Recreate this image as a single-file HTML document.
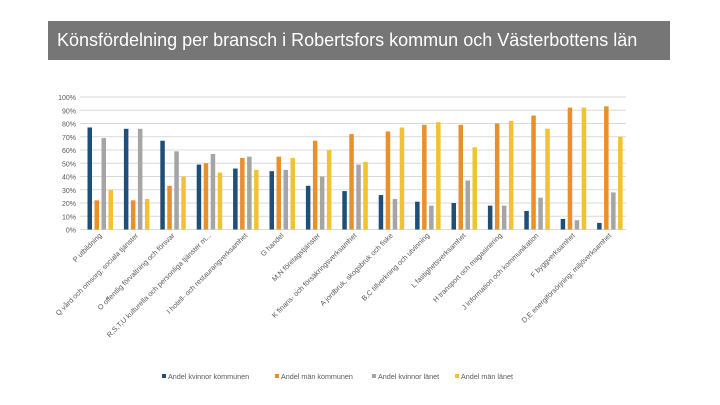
<!DOCTYPE html>
<html><head><meta charset="utf-8"><style>
body{margin:0;width:720px;height:405px;background:#fff;font-family:"Liberation Sans",sans-serif;overflow:hidden}
#title{position:absolute;left:48px;top:21px;width:622px;height:39px;background:#767677;color:#fff;font-size:18px;line-height:39px;padding-left:9px;box-sizing:border-box;white-space:nowrap}
</style></head><body>
<div id="title">Könsfördelning per bransch i Robertsfors kommun och Västerbottens län</div>
<svg id="chart" width="720" height="405" style="position:absolute;left:0;top:0"></svg>
<script>
const categories=["P utbildning","Q vård och omsorg; sociala tjänster","O offentlig förvaltning och försvar","R,S,T,U kulturella och personliga tjänster m...","I hotell- och restaurangverksamhet","G handel","M,N företagstjänster","K finans- och försäkringsverksamhet","A jordbruk, skogsbruk och fiske","B,C tillverkning och utvinning","L fastighetsverksamhet","H transport och magasinering","J information och kommunikation","F byggverksamhet","D,E energiförsörjning; miljöverksamhet"];
const seriesNames=["Andel kvinnor kommunen","Andel män kommunen","Andel kvinnor länet","Andel män länet"];
const kvinnorKommun=[77,76,67,49,46,44,33,29,26,21,20,18,14,8,5];
const manKommun=[22,22,33,50,54,55,67,72,74,79,79,80,86,92,93];
const kvinnorLan=[69,76,59,57,55,45,40,49,23,18,37,18,24,7,28];
const manLan=[30,23,40,43,45,54,60,51,77,81,62,82,76,92,70];
const yTicks=[0,10,20,30,40,50,60,70,80,90,100];
const series=[kvinnorKommun,manKommun,kvinnorLan,manLan];
const colors=["#1f4e79","#e8902a","#a5a5a5","#f2c232"];
const NS="http://www.w3.org/2000/svg";
const svg=document.getElementById('chart');
const x0=80,x1=626,y0=229.5,y1=97;
const y=v=>y0-(v/100)*(y0-y1);
const bw=(x1-x0)/categories.length;
const x=(i,s)=>x0+i*bw+7.5+s*7;
function mk(t,a){const e=document.createElementNS(NS,t);for(const k in a)e.setAttribute(k,a[k]);svg.appendChild(e);return e;}
yTicks.forEach(t=>{
 const l=mk('line',{x1:x0,x2:x1,y1:y(t),y2:y(t),stroke:'#d9d9d9','stroke-width':1});
 
 
 const tx=mk('text',{x:76,y:y(t)+3,'text-anchor':'end','font-size':7,fill:'#595959'});
 tx.textContent=t+'%';
 
 
});
series.forEach((arr,s)=>arr.forEach((v,i)=>{
 const r=mk('rect',{x:x(i,s),y:y(v),width:4.5,height:y0-y(v),fill:colors[s]});
 
 
}));
categories.forEach((c,i)=>{
 const cx=x0+i*bw+bw/2+4;
 const t=mk('text',{x:cx,y:236,'text-anchor':'end','font-size':7.2,fill:'#595959',transform:`rotate(-45 ${cx} 236)`});
 t.textContent=c;
 
 
});
const lx=[162,275,372,455];
seriesNames.forEach((n,s)=>{
 const r=mk('rect',{x:lx[s],y:374,width:4,height:4,fill:colors[s]});
 
 
 const t=mk('text',{x:lx[s]+6,y:379,'font-size':7.2,fill:'#595959'});
 t.textContent=n;
 
 
});
</script>
</body></html>
